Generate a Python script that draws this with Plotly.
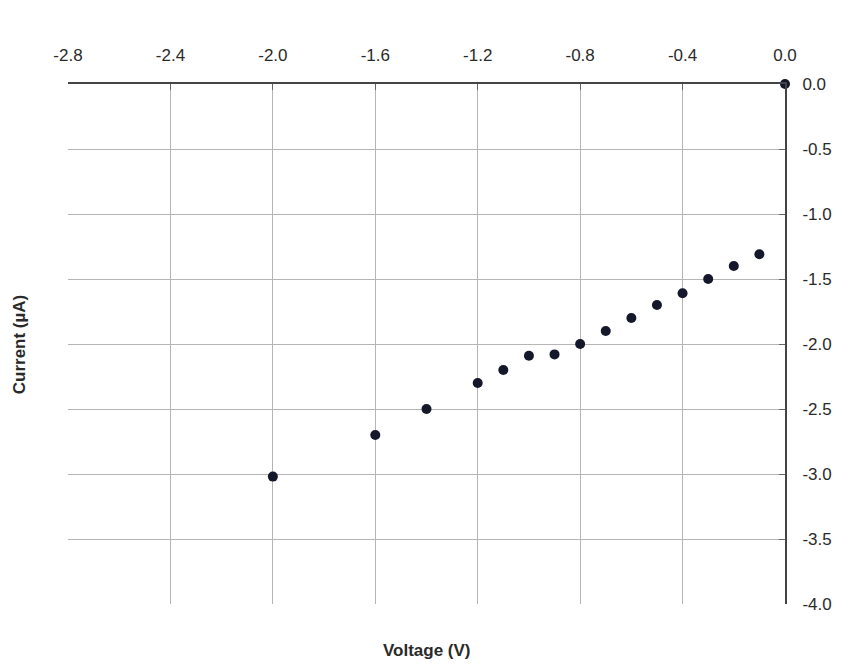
import plotly.graph_objects as go

voltage = [-2.0, -1.6, -1.4, -1.2, -1.1, -1.0, -0.9, -0.8, -0.7, -0.6, -0.5, -0.4, -0.3, -0.2, -0.1, 0.0]
current = [-3.02, -2.70, -2.50, -2.30, -2.20, -2.09, -2.08, -2.00, -1.90, -1.80, -1.70, -1.61, -1.50, -1.40, -1.31, 0.0]

x_ticks = [-2.8, -2.4, -2.0, -1.6, -1.2, -0.8, -0.4, 0.0]
y_ticks = [0.0, -0.5, -1.0, -1.5, -2.0, -2.5, -3.0, -3.5, -4.0]

fig = go.Figure()
fig.add_trace(go.Scatter(
    x=voltage, y=current, mode="markers",
    marker=dict(color="#15172a", size=10),
    showlegend=False, cliponaxis=False,
))

fig.update_layout(
    width=851, height=666,
    margin=dict(l=68, r=66, t=84, b=62),
    paper_bgcolor="white", plot_bgcolor="white",
    font=dict(family="Liberation Sans, Arial, sans-serif", size=17, color="#2a2a2a"),
    xaxis=dict(
        side="top", range=[-2.8, 0.0], tickvals=x_ticks,
        ticktext=[f"{v:.1f}" for v in x_ticks],
        showgrid=True, gridcolor="#b5b5b5", gridwidth=1,
        showline=True, linecolor="#444", linewidth=2,
        ticks="inside", ticklen=6, tickcolor="#666",
        ticklabelstandoff=14,
        zeroline=False,
    ),
    yaxis=dict(
        side="right", range=[-4.0, 0.0], tickvals=y_ticks,
        ticktext=[f"{v:.1f}" for v in y_ticks],
        showgrid=True, gridcolor="#b5b5b5", gridwidth=1,
        showline=True, linecolor="#444", linewidth=2,
        ticks="inside", ticklen=6, tickcolor="#666",
        ticklabelstandoff=12,
        zeroline=False,
    ),
    annotations=[
        dict(text="<b>Current (µA)</b>", x=-0.068, y=0.5, xref="paper", yref="paper",
             xanchor="center", yanchor="middle", textangle=-90, showarrow=False,
             font=dict(size=17, color="#2a2a2a")),
        dict(text="<b>Voltage (V)</b>", x=0.5, y=-0.09, xref="paper", yref="paper",
             xanchor="center", yanchor="middle", showarrow=False,
             font=dict(size=17, color="#2a2a2a")),
    ],
)

fig.write_html("out.html")
